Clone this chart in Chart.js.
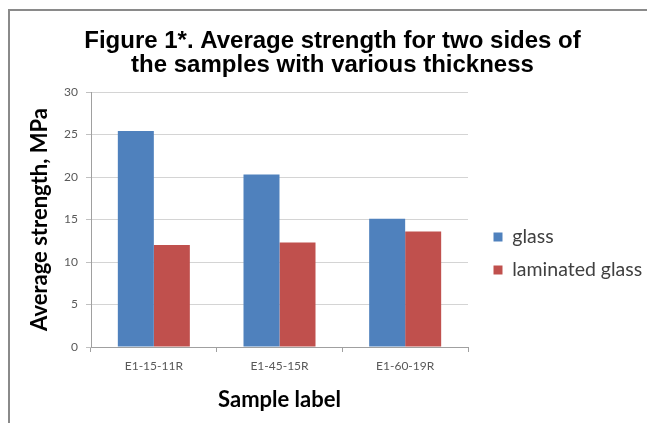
<!DOCTYPE html>
<html>
<head>
<meta charset="utf-8">
<script src="https://cdn.jsdelivr.net/npm/chart.js@4"></script>
<style>
  html, body { margin: 0; padding: 0; background: #fff; }
  #wrap { position: relative; width: 647px; height: 423px; overflow: hidden; }
  #frame { position: absolute; left: 8px; top: 9px; width: 700px; height: 500px;
    border-left: 2px solid #8a8a8a; border-top: 2px solid #8a8a8a; box-sizing: border-box; }
  canvas { position: absolute; left: 0; top: 0; }
</style>
</head>
<body>
<div id="wrap">
  <canvas id="chart1" width="647" height="423"></canvas>
  <div id="frame"></div>
</div>
<script>
// data
sampleLabels = ['E1-15-11R', 'E1-45-15R', 'E1-60-19R']
glassStrength = [25.4, 20.3, 15.1]
laminatedStrength = [12.0, 12.3, 13.6]
yTicks = [0, 5, 10, 15, 20, 25, 30]

const ctx1 = document.getElementById('chart1').getContext('2d');
const myChart = new Chart(ctx1, {
  type: 'bar',
  data: {
    labels: sampleLabels,
    datasets: [{
      label: 'glass',
      data: glassStrength,
      backgroundColor: '#4F81BD',
      borderWidth: 0
    }, {
      label: 'laminated glass',
      data: laminatedStrength,
      backgroundColor: '#C0504D',
      borderWidth: 0
    }]
  },
  options: {
    responsive: false,
    animation: false,
    layout: { padding: { left: 18, right: 0, top: 0, bottom: 0 } },
    datasets: {
      bar: { barPercentage: 1, categoryPercentage: 0.573 }
    },
    plugins: {
      tooltip: { enabled: false },
      title: {
        display: true,
        text: ['Figure 1*. Average strength for two sides of', 'the samples with various thickness'],
        color: '#000',
        font: { family: 'Liberation Sans', size: 24, weight: 'bold', lineHeight: 1.0 },
        padding: { top: 29, bottom: 15 }
      },
      legend: {
        position: 'right',
        fullSize: true,
        align: 'center',
        maxWidth: 167,
        // empty legend title, only used to push the entries down a little
        title: { display: true, text: '', padding: 0, font: { size: 70 } },
        labels: {
          boxWidth: 9,
          boxHeight: 9,
          padding: 13.5,
          color: '#404040',
          font: { family: 'Lato', size: 19.5 }
        }
      }
    },
    scales: {
      x: {
        afterFit: function (scale) { scale.height = 76 },
        border: { color: '#a0a0a0', width: 1 },
        grid: { display: true, drawOnChartArea: false, tickLength: 5, color: '#a0a0a0' },
        ticks: { color: '#595959', padding: 7, font: { family: 'Lato', size: 12 } },
        title: {
          display: true,
          text: 'Sample label',
          color: '#000',
          font: { family: 'Lato', size: 22, weight: 'bold' },
          padding: { top: 0, bottom: 10 }
        }
      },
      y: {
        min: 0,
        max: 30,
        afterFit: function (scale) { scale.width = 73 },
        afterBuildTicks: function (scale) { scale.ticks = yTicks.map(v => ({ value: v })) },
        border: { color: '#a0a0a0', width: 1 },
        grid: { color: '#d4d4d4', tickLength: 5, tickColor: '#c0c0c0' },
        ticks: { color: '#595959', padding: 8, font: { family: 'Lato', size: 12 } },
        title: {
          display: true,
          text: 'Average strength, MPa',
          color: '#000',
          font: { family: 'Lato', size: 22, weight: 'bold' },
          padding: { top: 9, bottom: 0 }
        }
      },
      // empty right axis, just keeps a gap between plot and legend
      gap: {
        type: 'linear',
        position: 'right',
        display: true,
        afterFit: function (scale) { scale.width = 12 },
        grid: { display: false },
        border: { display: false },
        ticks: { display: false }
      }
    }
  }
});
</script>
</body>
</html>
